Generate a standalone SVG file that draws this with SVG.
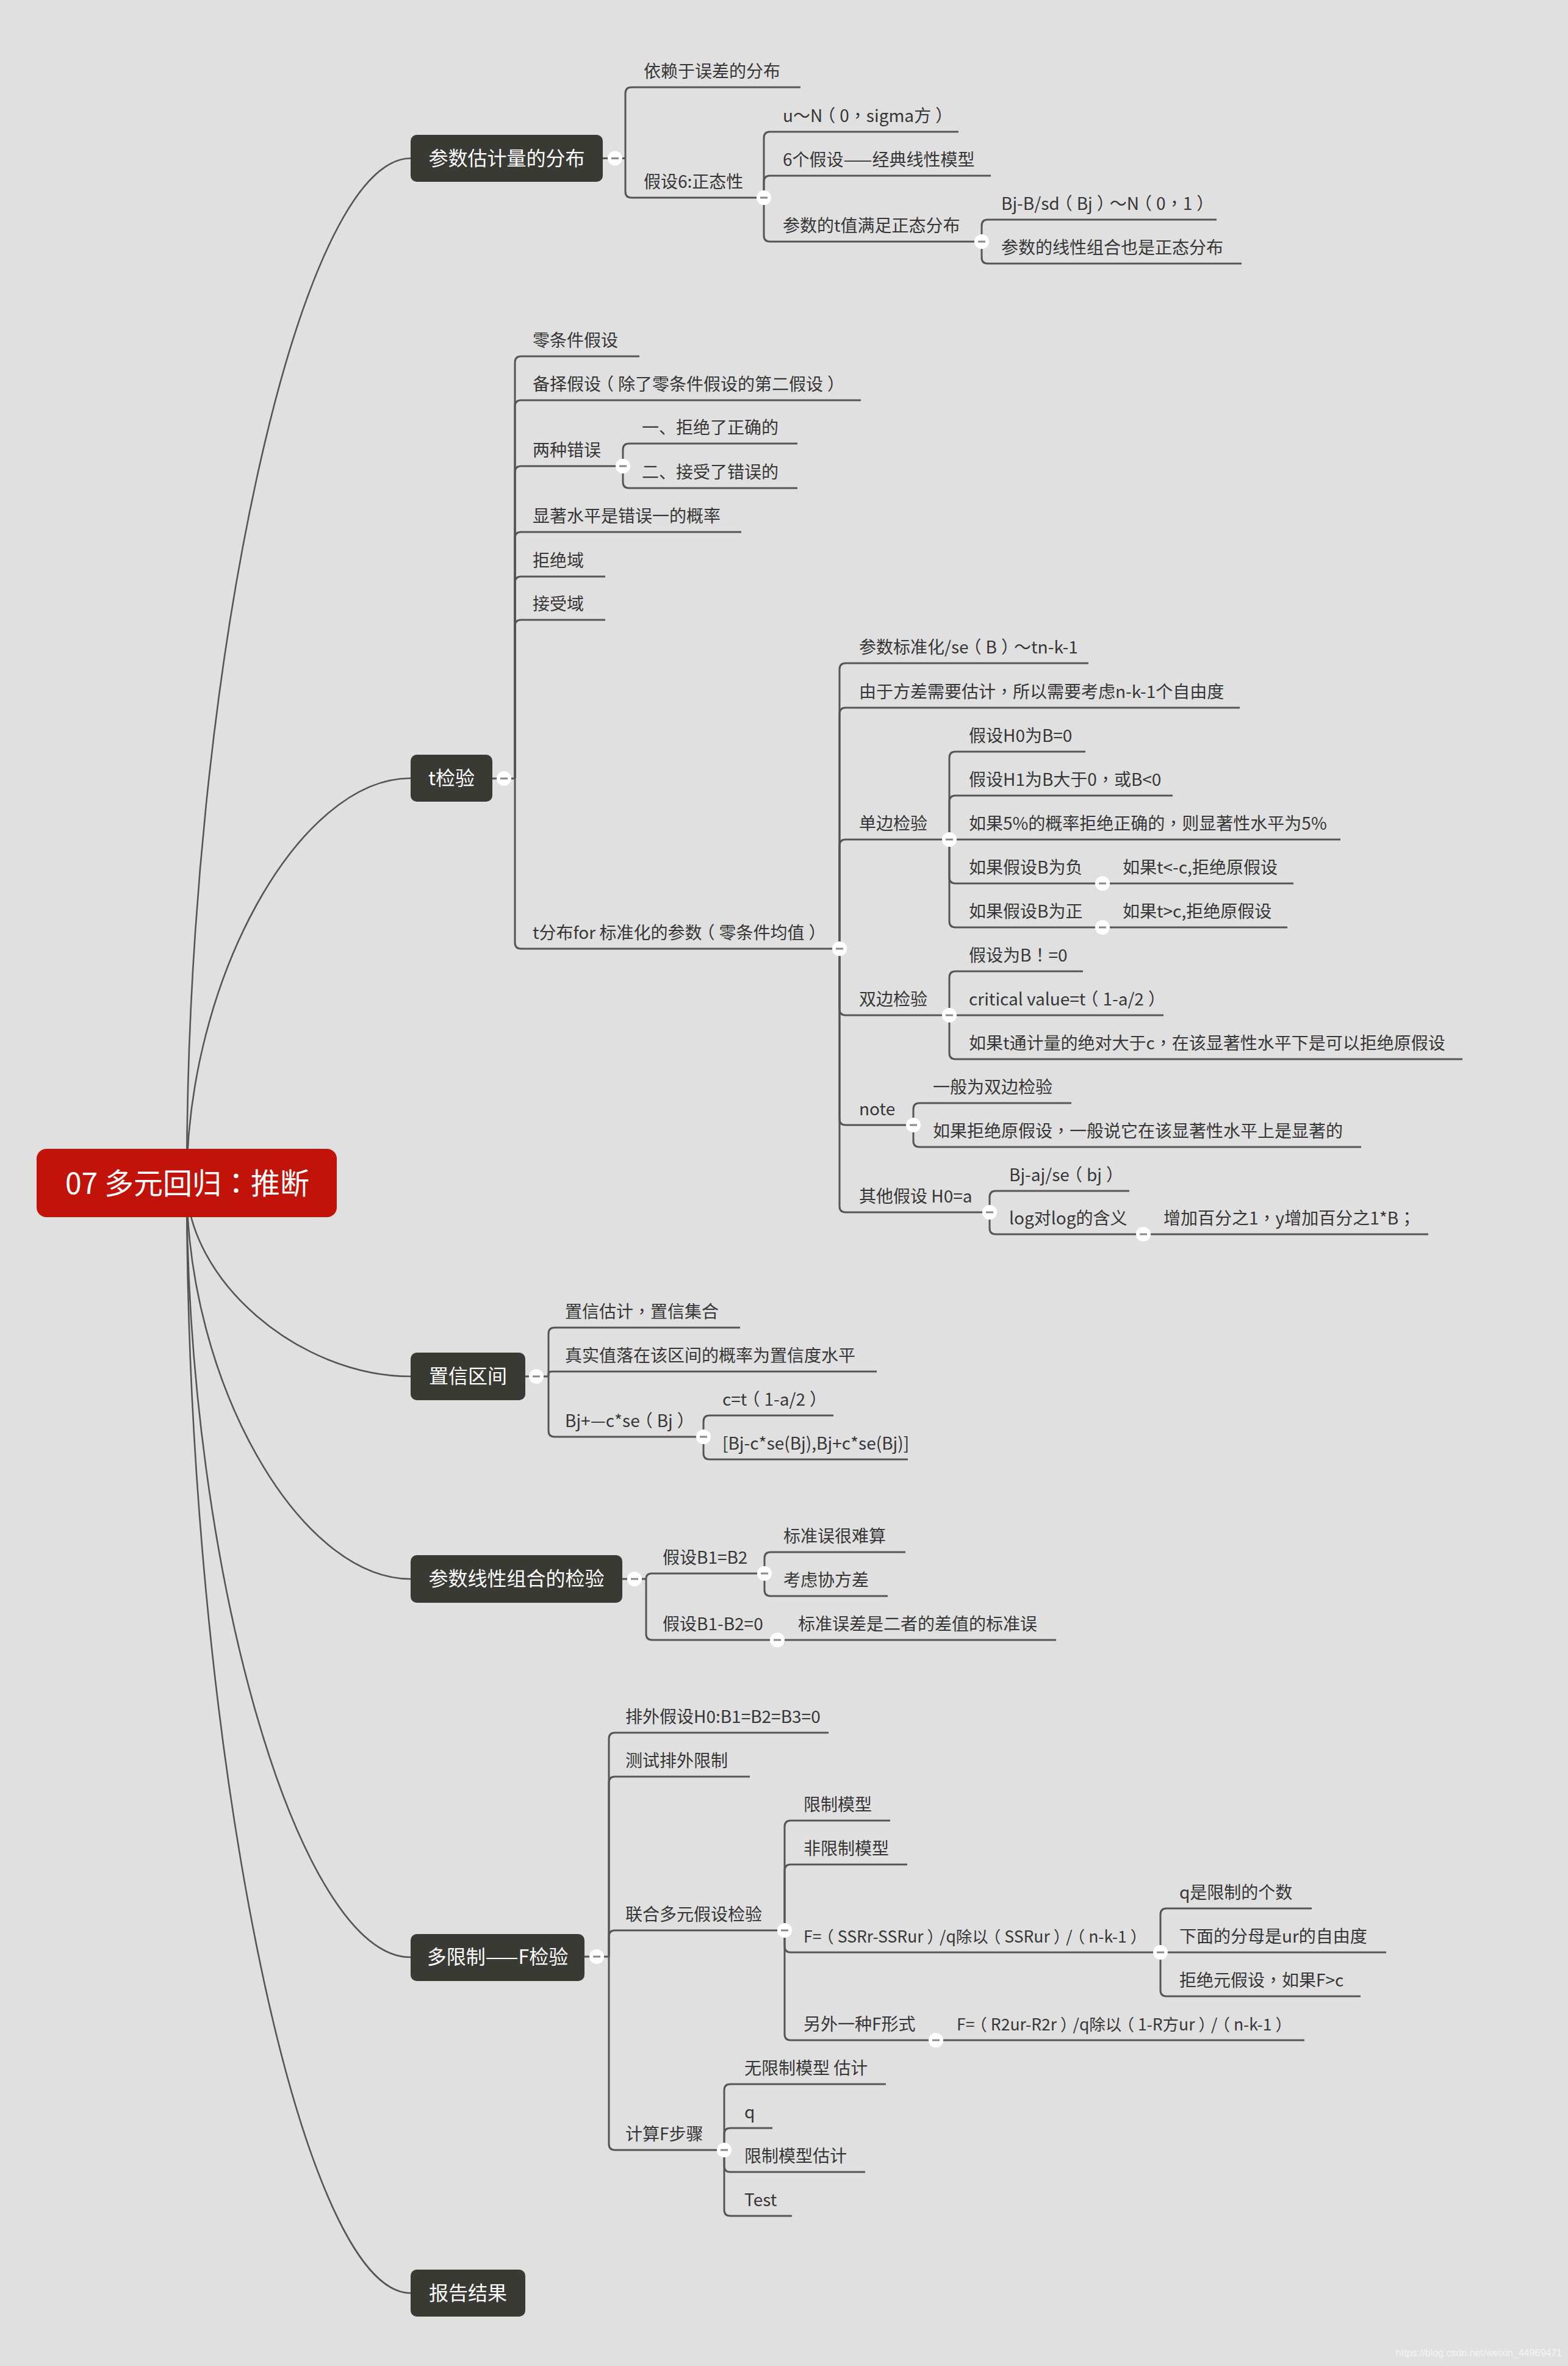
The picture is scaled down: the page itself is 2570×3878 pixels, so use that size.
<svg xmlns="http://www.w3.org/2000/svg" xmlns:xlink="http://www.w3.org/1999/xlink" width="2570" height="3878" viewBox="0 0 2570 3878">
<style>
.bg{fill:#e0e0e0}
.ln{fill:none;stroke:#555;stroke-width:3}
.cv{fill:none;stroke:#555;stroke-width:2.6}
.t{font-family:"Noto Sans CJK SC","Noto Sans",sans-serif;font-size:28px;fill:#363636}
.s{font-size:26.5px}
.m{font-family:"Noto Sans CJK SC","Noto Sans",sans-serif;font-size:32px;fill:#fff;text-anchor:middle}
.r{font-family:"Noto Sans CJK SC","Noto Sans",sans-serif;font-size:48px;fill:#fff;text-anchor:middle}
.p{font-family:"Noto Sans CJK TC","Noto Sans CJK SC",sans-serif}
.box{fill:#3a3a34}
.wm{font-family:"Liberation Sans",Arial,sans-serif;font-size:16px;fill:#f4f4f4;text-anchor:end}
</style>
<defs>
<g id="tog"><circle r="12" fill="#fff"/><path d="M-6 0H6" stroke="#888" stroke-width="3"/></g>
</defs>
<rect class="bg" x="0" y="0" width="2570" height="3878"/>
<g id="connectors">
<path class="cv" d="M306 1939 C306 1099 489.5 259.5 673 259.5"/>
<path class="cv" d="M306 1939 C306 1607 489.5 1275.5 673 1275.5"/>
<path class="cv" d="M306 1939 C306 2097.5 489.5 2256 673 2256"/>
<path class="cv" d="M306 1939 C306 2263.5 489.5 2588 673 2588"/>
<path class="cv" d="M306 1939 C306 2573.5 489.5 3208 673 3208"/>
<path class="cv" d="M306 1939 C306 2848.75 489.5 3758.5 673 3758.5"/>
<path class="ln" d="M988 259.5 H1025"/>
<path class="ln" d="M1025 259.5 V153 Q1025 143 1035 143 H1312"/>
<path class="ln" d="M1025 259.5 V314 Q1025 324 1035 324 H1252"/>
<path class="ln" d="M1252 324 V226 Q1252 216 1262 216 H1571"/>
<path class="ln" d="M1252 324 V298 Q1252 288 1262 288 H1624"/>
<path class="ln" d="M1252 324 V386 Q1252 396 1262 396 H1609"/>
<path class="ln" d="M1609 396 V370 Q1609 360 1619 360 H1994"/>
<path class="ln" d="M1609 396 V422 Q1609 432 1619 432 H2035"/>
<path class="ln" d="M807 1276 H844"/>
<path class="ln" d="M844 1276 V594 Q844 584 854 584 H1048"/>
<path class="ln" d="M844 1276 V666 Q844 656 854 656 H1411"/>
<path class="ln" d="M844 1276 V774 Q844 764 854 764 H1021"/>
<path class="ln" d="M844 1276 V882 Q844 872 854 872 H1215"/>
<path class="ln" d="M844 1276 V955 Q844 945 854 945 H992"/>
<path class="ln" d="M844 1276 V1026 Q844 1016 854 1016 H992"/>
<path class="ln" d="M844 1276 V1545 Q844 1555 854 1555 H1376"/>
<path class="ln" d="M1021 764 V737 Q1021 727 1031 727 H1307"/>
<path class="ln" d="M1021 764 V790 Q1021 800 1031 800 H1307"/>
<path class="ln" d="M1376 1555 V1097 Q1376 1087 1386 1087 H1784"/>
<path class="ln" d="M1376 1555 V1170 Q1376 1160 1386 1160 H2032"/>
<path class="ln" d="M1376 1555 V1386 Q1376 1376 1386 1376 H1556"/>
<path class="ln" d="M1376 1555 V1654 Q1376 1664 1386 1664 H1556"/>
<path class="ln" d="M1376 1555 V1834 Q1376 1844 1386 1844 H1497"/>
<path class="ln" d="M1376 1555 V1977 Q1376 1987 1386 1987 H1622"/>
<path class="ln" d="M1556 1376 V1242 Q1556 1232 1566 1232 H1779"/>
<path class="ln" d="M1556 1376 V1314 Q1556 1304 1566 1304 H1922"/>
<path class="ln" d="M1556 1376 H2197"/>
<path class="ln" d="M1556 1376 V1438 Q1556 1448 1566 1448 H1807"/>
<path class="ln" d="M1556 1376 V1510 Q1556 1520 1566 1520 H1807"/>
<path class="ln" d="M1807 1448 H2120"/>
<path class="ln" d="M1807 1520 H2110"/>
<path class="ln" d="M1556 1664 V1602 Q1556 1592 1566 1592 H1775"/>
<path class="ln" d="M1556 1664 H1907"/>
<path class="ln" d="M1556 1664 V1726 Q1556 1736 1566 1736 H2397"/>
<path class="ln" d="M1497 1844 V1818 Q1497 1808 1507 1808 H1756"/>
<path class="ln" d="M1497 1844 V1870 Q1497 1880 1507 1880 H2231"/>
<path class="ln" d="M1622 1987 V1962 Q1622 1952 1632 1952 H1851"/>
<path class="ln" d="M1622 1987 V2013 Q1622 2023 1632 2023 H1874"/>
<path class="ln" d="M1874 2023 H2341"/>
<path class="ln" d="M861 2256 H899"/>
<path class="ln" d="M899 2256 V2186 Q899 2176 909 2176 H1213"/>
<path class="ln" d="M899 2256 V2252 Q899 2248 905 2248 H1437"/>
<path class="ln" d="M899 2256 V2345 Q899 2355 909 2355 H1153"/>
<path class="ln" d="M1153 2355 V2330 Q1153 2320 1163 2320 H1366"/>
<path class="ln" d="M1153 2355 V2382 Q1153 2392 1163 2392 H1488"/>
<path class="ln" d="M1020 2588 H1059"/>
<path class="ln" d="M1059 2588 Q1059 2579 1068 2579 H1253"/>
<path class="ln" d="M1059 2588 V2678 Q1059 2688 1069 2688 H1274"/>
<path class="ln" d="M1253 2579 V2554 Q1253 2544 1263 2544 H1484"/>
<path class="ln" d="M1253 2579 V2606 Q1253 2616 1263 2616 H1455"/>
<path class="ln" d="M1274 2688 H1731"/>
<path class="ln" d="M958 3207 H998"/>
<path class="ln" d="M998 3207 V2850 Q998 2840 1008 2840 H1358"/>
<path class="ln" d="M998 3207 V2922 Q998 2912 1008 2912 H1229"/>
<path class="ln" d="M998 3207 V3174 Q998 3164 1008 3164 H1286"/>
<path class="ln" d="M998 3207 V3514 Q998 3524 1008 3524 H1187"/>
<path class="ln" d="M1286 3164 V2994 Q1286 2984 1296 2984 H1459"/>
<path class="ln" d="M1286 3164 V3066 Q1286 3056 1296 3056 H1487"/>
<path class="ln" d="M1286 3164 V3190 Q1286 3200 1296 3200 H1902"/>
<path class="ln" d="M1286 3164 V3334 Q1286 3344 1296 3344 H1534"/>
<path class="ln" d="M1902 3200 V3138 Q1902 3128 1912 3128 H2150"/>
<path class="ln" d="M1902 3200 H2272"/>
<path class="ln" d="M1902 3200 V3262 Q1902 3272 1912 3272 H2230"/>
<path class="ln" d="M1534 3344 H2138"/>
<path class="ln" d="M1187 3524 V3426 Q1187 3416 1197 3416 H1452"/>
<path class="ln" d="M1187 3524 V3498 Q1187 3488 1197 3488 H1266"/>
<path class="ln" d="M1187 3524 V3550 Q1187 3560 1197 3560 H1418"/>
<path class="ln" d="M1187 3524 V3622 Q1187 3632 1197 3632 H1298"/>
</g>
<g id="root">
<rect x="60" y="1883" width="492" height="112" rx="16" fill="#c1130a"/>
<text class="r" x="307" y="1957">07 多元回归<tspan class="p">：</tspan>推断</text>
</g>
<g id="n-dist">
<rect class="box" x="673" y="221" width="315" height="77" rx="10"/>
<text class="m" x="830.5" y="271">参数估计量的分布</text>
<use xlink:href="#tog" href="#tog" x="1008" y="259.5"/>
</g>
<g id="n-dist-1"><text class="t" x="1055" y="127">依赖于误差的分布</text></g>
<g id="n-dist-2"><text class="t" x="1055" y="308">假设6:正态性</text><use xlink:href="#tog" href="#tog" x="1252" y="324"/></g>
<g id="n-dist-2a"><text class="t" x="1283" y="200">u<tspan class="p">～</tspan>N<tspan class="p" dx="-7">（</tspan><tspan dx="7">0</tspan><tspan class="p">，</tspan>sigma方<tspan class="p" dx="7">）</tspan></text></g>
<g id="n-dist-2b"><text class="t" x="1283" y="272">6个假设——经典线性模型</text></g>
<g id="n-dist-2c"><text class="t" x="1283" y="380">参数的t值满足正态分布</text><use xlink:href="#tog" href="#tog" x="1609" y="396"/></g>
<g id="n-dist-2c1"><text class="t" x="1641" y="344">Bj-B/sd<tspan class="p" dx="-7">（</tspan><tspan dx="7">Bj</tspan><tspan class="p" dx="7">）</tspan><tspan class="p" dx="-7">～</tspan>N<tspan class="p" dx="-7">（</tspan><tspan dx="7">0</tspan><tspan class="p">，</tspan>1<tspan class="p" dx="7">）</tspan></text></g>
<g id="n-dist-2c2"><text class="t" x="1641" y="416">参数的线性组合也是正态分布</text></g>

<g id="n-t">
<rect class="box" x="673" y="1237" width="134" height="77" rx="10"/>
<text class="m" x="740" y="1287">t检验</text>
<use xlink:href="#tog" href="#tog" x="826" y="1276"/>
</g>
<g id="n-t-1"><text class="t" x="873" y="568">零条件假设</text></g>
<g id="n-t-2"><text class="t" x="873" y="640">备择假设<tspan class="p" dx="-7">（</tspan><tspan dx="7">除了零条件假设的第二假设</tspan><tspan class="p" dx="7">）</tspan></text></g>
<g id="n-t-3"><text class="t" x="873" y="748">两种错误</text><use xlink:href="#tog" href="#tog" x="1021" y="764"/></g>
<g id="n-t-3a"><text class="t" x="1052" y="711">一、拒绝了正确的</text></g>
<g id="n-t-3b"><text class="t" x="1052" y="784">二、接受了错误的</text></g>
<g id="n-t-4"><text class="t" x="873" y="856">显著水平是错误一的概率</text></g>
<g id="n-t-5"><text class="t" x="873" y="929">拒绝域</text></g>
<g id="n-t-6"><text class="t" x="873" y="1000">接受域</text></g>
<g id="n-t-7"><text class="t" x="873" y="1539">t分布for 标准化的参数<tspan class="p" dx="-7">（</tspan><tspan dx="7">零条件均值</tspan><tspan class="p" dx="7">）</tspan></text><use xlink:href="#tog" href="#tog" x="1376" y="1555"/></g>
<g id="n-t-7a"><text class="t" x="1408" y="1071">参数标准化/se<tspan class="p" dx="-7">（</tspan><tspan dx="7">B</tspan><tspan class="p" dx="7">）</tspan><tspan class="p" dx="-7">～</tspan>tn-k-1</text></g>
<g id="n-t-7b"><text class="t" x="1408" y="1144">由于方差需要估计<tspan class="p">，</tspan>所以需要考虑n-k-1个自由度</text></g>
<g id="n-t-7c"><text class="t" x="1408" y="1360">单边检验</text><use xlink:href="#tog" href="#tog" x="1556" y="1376"/></g>
<g id="n-t-7c1"><text class="t" x="1588" y="1216">假设H0为B=0</text></g>
<g id="n-t-7c2"><text class="t" x="1588" y="1288">假设H1为B大于0<tspan class="p">，</tspan>或B&lt;0</text></g>
<g id="n-t-7c3"><text class="t" x="1588" y="1360">如果5%的概率拒绝正确的<tspan class="p">，</tspan>则显著性水平为5%</text></g>
<g id="n-t-7c4"><text class="t" x="1588" y="1432">如果假设B为负</text><use xlink:href="#tog" href="#tog" x="1807" y="1448"/></g>
<g id="n-t-7c4a"><text class="t" x="1840" y="1432">如果t&lt;-c,拒绝原假设</text></g>
<g id="n-t-7c5"><text class="t" x="1588" y="1504">如果假设B为正</text><use xlink:href="#tog" href="#tog" x="1807" y="1520"/></g>
<g id="n-t-7c5a"><text class="t" x="1840" y="1504">如果t&gt;c,拒绝原假设</text></g>
<g id="n-t-7d"><text class="t" x="1408" y="1648">双边检验</text><use xlink:href="#tog" href="#tog" x="1556" y="1664"/></g>
<g id="n-t-7d1"><text class="t" x="1588" y="1576">假设为B<tspan class="p">！</tspan>=0</text></g>
<g id="n-t-7d2"><text class="t" x="1588" y="1648">critical value=t<tspan class="p" dx="-7">（</tspan><tspan dx="7">1-a/2</tspan><tspan class="p" dx="7">）</tspan></text></g>
<g id="n-t-7d3"><text class="t" x="1588" y="1720">如果t通计量的绝对大于c<tspan class="p">，</tspan>在该显著性水平下是可以拒绝原假设</text></g>
<g id="n-t-7e"><text class="t" x="1408" y="1828">note</text><use xlink:href="#tog" href="#tog" x="1497" y="1844"/></g>
<g id="n-t-7e1"><text class="t" x="1529" y="1792">一般为双边检验</text></g>
<g id="n-t-7e2"><text class="t" x="1529" y="1864">如果拒绝原假设<tspan class="p">，</tspan>一般说它在该显著性水平上是显著的</text></g>
<g id="n-t-7f"><text class="t" x="1408" y="1971">其他假设 H0=a</text><use xlink:href="#tog" href="#tog" x="1622" y="1987"/></g>
<g id="n-t-7f1"><text class="t" x="1654" y="1936">Bj-aj/se<tspan class="p" dx="-7">（</tspan><tspan dx="7">bj</tspan><tspan class="p" dx="7">）</tspan></text></g>
<g id="n-t-7f2"><text class="t" x="1654" y="2007">log对log的含义</text><use xlink:href="#tog" href="#tog" x="1874" y="2023"/></g>
<g id="n-t-7f2a"><text class="t" x="1907" y="2007">增加百分之1<tspan class="p">，</tspan>y增加百分之1*B<tspan class="p">；</tspan></text></g>

<g id="n-ci">
<rect class="box" x="673" y="2217" width="188" height="78" rx="10"/>
<text class="m" x="767" y="2267">置信区间</text>
<use xlink:href="#tog" href="#tog" x="879" y="2256"/>
</g>
<g id="n-ci-1"><text class="t" x="926" y="2160">置信估计<tspan class="p">，</tspan>置信集合</text></g>
<g id="n-ci-2"><text class="t" x="926" y="2232">真实值落在该区间的概率为置信度水平</text></g>
<g id="n-ci-3"><text class="t" x="926" y="2339">Bj+—c*se<tspan class="p" dx="-7">（</tspan><tspan dx="7">Bj</tspan><tspan class="p" dx="7">）</tspan></text><use xlink:href="#tog" href="#tog" x="1153" y="2355"/></g>
<g id="n-ci-3a"><text class="t" x="1184" y="2304">c=t<tspan class="p" dx="-7">（</tspan><tspan dx="7">1-a/2</tspan><tspan class="p" dx="7">）</tspan></text></g>
<g id="n-ci-3b"><text class="t" x="1184" y="2376">[Bj-c*se(Bj),Bj+c*se(Bj)]</text></g>

<g id="n-lin">
<rect class="box" x="673" y="2549" width="347" height="78" rx="10"/>
<text class="m" x="846.5" y="2599">参数线性组合的检验</text>
<use xlink:href="#tog" href="#tog" x="1040" y="2588"/>
</g>
<g id="n-lin-1"><text class="t" x="1086" y="2563">假设B1=B2</text><use xlink:href="#tog" href="#tog" x="1253" y="2579"/></g>
<g id="n-lin-1a"><text class="t" x="1284" y="2528">标准误很难算</text></g>
<g id="n-lin-1b"><text class="t" x="1284" y="2600">考虑协方差</text></g>
<g id="n-lin-2"><text class="t" x="1086" y="2672">假设B1-B2=0</text><use xlink:href="#tog" href="#tog" x="1274" y="2688"/></g>
<g id="n-lin-2a"><text class="t" x="1308" y="2672">标准误差是二者的差值的标准误</text></g>

<g id="n-f">
<rect class="box" x="673" y="3170" width="285" height="77" rx="10"/>
<text class="m" x="815.5" y="3219">多限制——F检验</text>
<use xlink:href="#tog" href="#tog" x="978" y="3207"/>
</g>
<g id="n-f-1"><text class="t" x="1025" y="2824">排外假设H0:B1=B2=B3=0</text></g>
<g id="n-f-2"><text class="t" x="1025" y="2896">测试排外限制</text></g>
<g id="n-f-3"><text class="t" x="1025" y="3148">联合多元假设检验</text><use xlink:href="#tog" href="#tog" x="1286" y="3164"/></g>
<g id="n-f-3a"><text class="t" x="1317" y="2968">限制模型</text></g>
<g id="n-f-3b"><text class="t" x="1317" y="3040">非限制模型</text></g>
<g id="n-f-3c"><text class="t s" x="1317" y="3184">F=<tspan class="p" dx="-6">（</tspan><tspan dx="6">SSRr-SSRur</tspan><tspan class="p" dx="6">）</tspan><tspan dx="-6">/q除以</tspan><tspan class="p" dx="-6">（</tspan><tspan dx="6">SSRur</tspan><tspan class="p" dx="6">）</tspan><tspan dx="-6">/</tspan><tspan class="p" dx="-6">（</tspan><tspan dx="6">n-k-1</tspan><tspan class="p" dx="6">）</tspan></text><use xlink:href="#tog" href="#tog" x="1902" y="3200"/></g>
<g id="n-f-3c1"><text class="t" x="1933" y="3112">q是限制的个数</text></g>
<g id="n-f-3c2"><text class="t" x="1933" y="3184">下面的分母是ur的自由度</text></g>
<g id="n-f-3c3"><text class="t" x="1933" y="3256">拒绝元假设<tspan class="p">，</tspan>如果F&gt;c</text></g>
<g id="n-f-3d"><text class="t" x="1317" y="3328">另外一种F形式</text><use xlink:href="#tog" href="#tog" x="1534" y="3344"/></g>
<g id="n-f-3d1"><text class="t s" x="1568" y="3328">F=<tspan class="p" dx="-6">（</tspan><tspan dx="6">R2ur-R2r</tspan><tspan class="p" dx="6">）</tspan><tspan dx="-6">/q除以</tspan><tspan class="p" dx="-6">（</tspan><tspan dx="6">1-R方ur</tspan><tspan class="p" dx="6">）</tspan><tspan dx="-6">/</tspan><tspan class="p" dx="-6">（</tspan><tspan dx="6">n-k-1</tspan><tspan class="p" dx="6">）</tspan></text></g>
<g id="n-f-4"><text class="t" x="1025" y="3508">计算F步骤</text><use xlink:href="#tog" href="#tog" x="1187" y="3524"/></g>
<g id="n-f-4a"><text class="t" x="1220" y="3400">无限制模型 估计</text></g>
<g id="n-f-4b"><text class="t" x="1220" y="3472">q</text></g>
<g id="n-f-4c"><text class="t" x="1220" y="3544">限制模型估计</text></g>
<g id="n-f-4d"><text class="t" x="1220" y="3616">Test</text></g>

<g id="n-report">
<rect class="box" x="673" y="3720" width="188" height="77" rx="10"/>
<text class="m" x="767" y="3770">报告结果</text>
</g>
<text class="wm" x="2560" y="3862">https://blog.csdn.net/weixin_44969471</text>
</svg>
